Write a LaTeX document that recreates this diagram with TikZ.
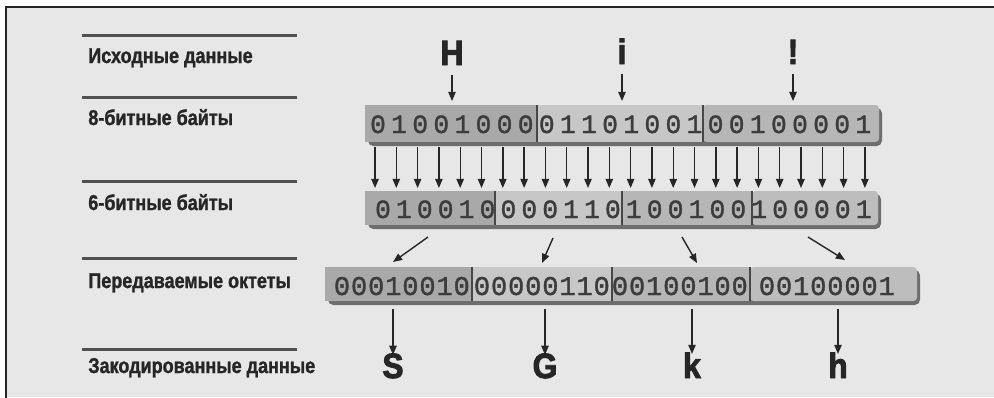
\documentclass[tikz,border=0pt]{standalone}
\usepackage{fontspec}
\usetikzlibrary{arrows.meta,calc}
\newfontfamily\lblfont[FakeStretch=0.84, BoldFeatures={FakeBold=1.3}]{Liberation Sans}
\newfontfamily\bigfont[FakeStretch=0.9, BoldFeatures={FakeBold=2.6}]{Liberation Sans}
\newfontfamily\bitfont[FakeBold=1.4]{Liberation Mono}
\definecolor{paper}{HTML}{E7E7E7}
\definecolor{ink}{HTML}{262626}
\definecolor{segdark}{HTML}{A9A9A9}
\definecolor{seglight}{HTML}{C7C7C7}
\definecolor{segmid}{HTML}{B6B6B6}
\definecolor{bevel}{HTML}{6E6E6E}
\tikzset{
  rule/.style={line width=1.7pt, draw=ink!80},
  lbl/.style={anchor=base west, inner sep=0pt, text=ink, font=\lblfont\bfseries\fontsize{12.2}{14}\selectfont},
  big/.style={anchor=base, inner sep=0pt, text=ink, font=\bigfont\bfseries\fontsize{20}{22}\selectfont},
  bit/.style={anchor=base, inner sep=0pt, text=ink!90, font=\bitfont\fontsize{15}{17}\selectfont},
  obit/.style={bit, font=\bitfont\fontsize{15.4}{17}\selectfont},
  arr/.style={line width=0.8pt, draw=ink, -{Triangle[length=5.2pt,width=4.2pt]}},
  sep/.style={line width=0.6pt, draw=ink!85}
}
\begin{document}
\begin{tikzpicture}[x=0.02cm,y=-0.02cm]
	\useasboundingbox (0,0) rectangle (994,397);
	\fill[white] (0,0) rectangle (994,397);
	\fill[paper] (6,7) rectangle (994,397);
	\draw[line width=1.2pt, ink] (6,400) -- (6,7) -- (1000,7);

	% left captions
	\foreach \y in {35,97,181,258,349}
		\draw[rule] (82,\y) -- (297,\y);
	\node[lbl] (lblsrc) at (88,63) {Исходные данные};
	\node[lbl] (lbl8) at (88,125) {8-битные байты};
	\node[lbl] (lbl6) at (88,210) {6-битные байты};
	\node[lbl] (lbloct) at (88,288) {Передаваемые октеты};
	\node[lbl] (lblenc) at (88,373) {Закодированные данные};

	% source characters
	\node[big] (H) at (452,65) {H};
	\node[big] (i) at (622,64) {i};
	\node[big] (excl) at (793,64) {!};
	\coordinate (H-in) at (452,101);
	\coordinate (i-in) at (622,101);
	\coordinate (excl-in) at (793,101);
	\foreach \c in {H,i,excl}
		\draw[arr, shorten <=5.5pt] (\c.south) -- (\c-in);

	% 8-bit bytes
	\fill[bevel, rounded corners=3pt] (368,108) rectangle (882,146);
	\fill[segdark] (365,105) rectangle (537,142);
	\fill[seglight] (537,105) rectangle (703,142);
	\fill[segmid, rounded corners=2pt] (703,105) rectangle (879,142);
	\draw[sep] (537,105) -- (537,142);
	\draw[sep] (703,105) -- (703,142);
	\foreach \d [count=\n from 0] in {0,1,0,0,1,0,0,0,0,1,1,0,1,0,0,1,0,0,1,0,0,0,0,1}
		\node[bit] (b8-\n) at ({378+21.1*\n},133) {\d};

	% 6-bit groups
	\fill[bevel, rounded corners=3pt] (368,194) rectangle (881,229);
	\fill[segdark] (365,191) rectangle (495,225);
	\fill[seglight] (495,191) rectangle (622,225);
	\fill[segmid] (622,191) rectangle (752,225);
	\fill[seglight!95!black, rounded corners=2pt] (752,191) rectangle (878,225);
	\draw[sep] (495,191) -- (495,225);
	\draw[sep] (622,191) -- (622,225);
	\draw[sep] (752,191) -- (752,225);
	\foreach \d [count=\n from 0] in {0,1,0,0,1,0,0,0,0,1,1,0,1,0,0,1,0,0,1,0,0,0,0,1}
		\node[bit] (b6-\n) at ({383+20.9*\n},218) {\d};

	% bit moves
	\foreach \n in {0,...,23} {
		\coordinate (up\n) at ({375+21.3*\n},147);
		\coordinate (dn\n) at ({375+21.3*\n},188);
		\draw[arr] (up\n) -- (dn\n);
	}

	% octets
	\fill[bevel, rounded corners=3pt] (328,270) rectangle (920,305);
	\fill[segdark] (325,267) rectangle (472,301);
	\fill[seglight] (472,267) rectangle (612,301);
	\fill[segmid] (612,267) rectangle (750,301);
	\fill[seglight!95!black, rounded corners=2pt] (750,267) rectangle (917,301);
	\draw[sep] (472,267) -- (472,301);
	\draw[sep] (612,267) -- (612,301);
	\draw[sep] (750,267) -- (750,301);
	\foreach \s/\x in {0/342,1/482,2/620,3/767}
		\coordinate (oct\s) at (\x,295);
	\foreach \d [count=\n from 0] in {0,0,0,1,0,0,1,0}
		\node[obit] (o0-\n) at ($(oct0)+({17.1*\n},0)$) {\d};
	\foreach \d [count=\n from 0] in {0,0,0,0,0,1,1,0}
		\node[obit] (o1-\n) at ($(oct1)+({17.1*\n},0)$) {\d};
	\foreach \d [count=\n from 0] in {0,0,1,0,0,1,0,0}
		\node[obit] (o2-\n) at ($(oct2)+({17.1*\n},0)$) {\d};
	\foreach \d [count=\n from 0] in {0,0,1,0,0,0,0,1}
		\node[obit] (o3-\n) at ($(oct3)+({17.1*\n},0)$) {\d};

	% 6-bit to octet
	\coordinate (g0) at (428,237); \coordinate (p0) at (393,262);
	\coordinate (g1) at (553,238); \coordinate (p1) at (542,263);
	\coordinate (g2) at (682,237); \coordinate (p2) at (697,263);
	\coordinate (g3) at (808,237); \coordinate (p3) at (845,260);
	\foreach \n in {0,...,3}
		\draw[arr] (g\n) -- (p\n);

	% encoded characters
	\node[big] (S) at (393,378) {S};
	\node[big] (G) at (545,378) {G};
	\node[big] (k) at (692,378) {k};
	\node[big] (h) at (838,378) {h};
	\coordinate (S-out) at (393,309);
	\coordinate (G-out) at (545,309);
	\coordinate (k-out) at (692,309);
	\coordinate (h-out) at (838,309);
	\foreach \c in {S,G,k,h}
		\draw[arr, shorten >=1pt] (\c-out) -- ([yshift=-2pt]\c.north);
\end{tikzpicture}
\end{document}
